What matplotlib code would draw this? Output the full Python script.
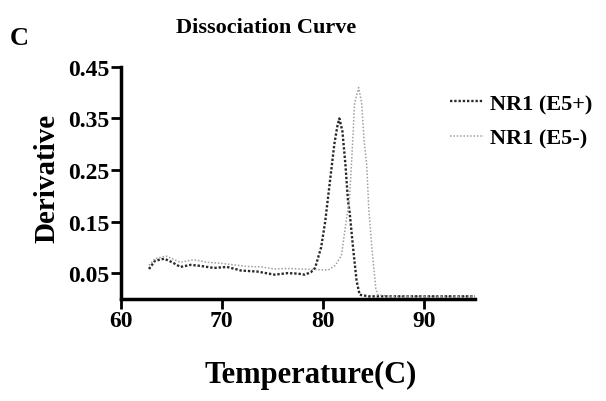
import matplotlib
matplotlib.use("Agg")
import matplotlib.pyplot as plt

# ── data ─────────────────────────────────────────────────────
temp_pos = [62.8, 63.4, 64.3, 65.1, 65.9, 66.9, 67.9, 69.2, 70.5, 71.9, 73.5,
            75.2, 76.5, 77.5, 78.2, 78.8, 79.2, 79.5, 79.8, 80.2, 80.5, 80.8,
            81.1, 81.4, 81.6, 81.9, 82.2, 82.45, 82.6, 82.8, 83.0, 83.3, 83.6,
            84.5, 95.0]
deriv_pos = [0.058, 0.074, 0.078, 0.071, 0.062, 0.066, 0.064, 0.060, 0.062,
             0.055, 0.053, 0.047, 0.050, 0.049, 0.047, 0.052, 0.060, 0.080,
             0.100, 0.150, 0.200, 0.250, 0.300, 0.335, 0.350, 0.325, 0.260,
             0.190, 0.170, 0.130, 0.090, 0.035, 0.008, 0.005, 0.005]

temp_neg = [62.8, 63.4, 64.5, 65.9, 67.2, 68.6, 69.9, 71.2, 72.5, 73.9, 75.2,
            76.5, 77.8, 79.2, 80.5, 81.2, 81.8, 82.3, 82.6, 82.86, 83.1, 83.5,
            83.8, 84.05, 84.3, 84.5, 84.85, 85.2, 85.4, 86.5, 95.0]
deriv_neg = [0.065, 0.078, 0.083, 0.071, 0.076, 0.071, 0.069, 0.066, 0.063,
             0.062, 0.058, 0.059, 0.058, 0.057, 0.056, 0.065, 0.084, 0.155,
             0.194, 0.285, 0.380, 0.410, 0.380, 0.305, 0.260, 0.175, 0.090,
             0.020, 0.008, 0.005, 0.005]

labels = ["NR1 (E5+)", "NR1 (E5-)"]
xticks = [60, 70, 80, 90]
yticks = [0.05, 0.15, 0.25, 0.35, 0.45]

plt.rcParams["font.family"] = ["Liberation Serif", "DejaVu Serif"]
plt.rcParams["font.weight"] = "bold"

fig = plt.figure(figsize=(6.06, 4.02), dpi=100)
ax = fig.add_axes([0.199, 0.254, 0.585, 0.577])

ax.plot(temp_pos, deriv_pos, color="#2a2a2a", lw=1.7, ls=(0, (1, 0.8)),
        label=labels[0])
ax.plot(temp_neg, deriv_neg, color="#a0a0a0", lw=1.1, ls=(0, (1, 1.2)),
        label=labels[1])

ax.set_xlim(60, 95)
ax.set_ylim(0, 0.45)
ax.set_xticks(xticks)
ax.set_yticks(yticks)
ax.set_yticklabels([f"{v:.2f}" for v in yticks])
ax.tick_params(labelsize=17, width=2, length=7, pad=1)
for lab in ax.get_xticklabels() + ax.get_yticklabels():
    lab.set_fontweight("bold")

for side in ["top", "right"]:
    ax.spines[side].set_visible(False)
for side in ["left", "bottom"]:
    ax.spines[side].set_linewidth(2.5)

fig.text(0.439, 0.930, "Dissociation Curve", ha="center", va="center",
         fontsize=16, fontweight="bold")
fig.text(0.016, 0.905, "C", ha="left", va="center", fontsize=19,
         fontweight="bold")
fig.text(0.077, 0.557, "Derivative", ha="center", va="center", rotation=90,
         fontsize=21, fontweight="bold")
fig.text(0.513, 0.067, "Temperature(C)", ha="center", va="center",
         fontsize=22, fontweight="bold")

fig.legend(loc="upper left", bbox_to_anchor=(0.743, 0.765), frameon=False,
           handlelength=1.5, handletextpad=0.3, borderpad=0,
           borderaxespad=0, labelspacing=0.62,
           prop={"weight": "bold", "size": 16})

fig.savefig("out.png", dpi=100)
